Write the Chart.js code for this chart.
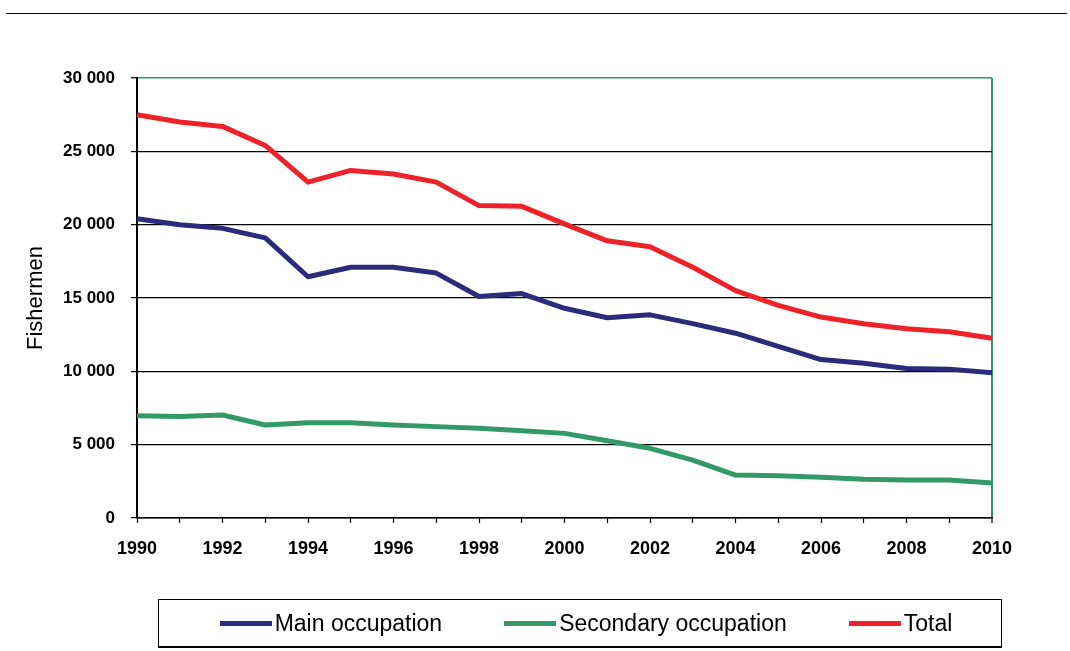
<!DOCTYPE html>
<html>
<head>
<meta charset="utf-8">
<script src="https://cdn.jsdelivr.net/npm/chart.js@4"></script>
<style>
    html, body { margin: 0; padding: 0; background: #fff; }
    #wrap { position: relative; width: 1070px; height: 651px; }
    #regua { position: absolute; left: 6px; top: 13px; width: 1061px; height: 0; border-top: 1.5px solid #000; }
    #legenda {
        position: absolute; left: 158px; top: 599px; width: 830px; height: 46px; padding-left: 12px;
        border: 1px solid #000; border-bottom-width: 2px;
        display: flex; align-items: center; justify-content: center; gap: 62px;
        font-family: "Liberation Sans", Arial, sans-serif; font-size: 23px; color: #000;
    }
    .item { display: flex; align-items: center; }
    .amostra { width: 52px; height: 5px; margin-right: 3px; }
</style>
</head>
<body>
<div id="wrap">
    <div id="regua"></div>
    <canvas id="grafico" width="1070" height="651"></canvas>
    <div id="legenda"></div>
</div>
<script>
// dados ----------------------------------------
const anos = ["1990", "1991", "1992", "1993", "1994", "1995", "1996", "1997", "1998", "1999", "2000",
    "2001", "2002", "2003", "2004", "2005", "2006", "2007", "2008", "2009", "2010"];
const principal = [20400, 20000, 19750, 19100, 16450, 17100, 17100, 16700, 15100, 15300, 14300,
    13650, 13850, 13250, 12600, 11700, 10800, 10550, 10200, 10150, 9900];
const secundaria = [6980, 6920, 7020, 6340, 6500, 6500, 6340, 6230, 6120, 5950, 5770,
    5270, 4750, 3950, 2930, 2880, 2780, 2650, 2590, 2590, 2380];
const total = [27500, 27000, 26700, 25400, 22900, 23700, 23450, 22900, 21300, 21250, 20050,
    18900, 18500, 17100, 15500, 14500, 13700, 13250, 12900, 12700, 12250];
const nomesSeries = ["Main occupation", "Secondary occupation", "Total"];
const tituloY = "Fishermen";

const CORES = { principal: "#2b2b7b", secundaria: "#339966", total: "#ee2228", verde: "#2e9966" };
const FONTE = '"Liberation Sans", Arial, sans-serif';

function formataMilhar(v) {
    return String(v).replace(/\B(?=(\d{3})+(?!\d))/g, " ");
}

function serie(label, data, cor, ordem) {
    return { label: label, data: data, borderColor: cor, backgroundColor: cor, borderWidth: 5,
        pointRadius: 0, tension: 0, borderJoinStyle: "round", borderCapStyle: "butt", order: ordem };
}

const dados = {
    labels: anos,
    datasets: [
        serie(nomesSeries[0], principal, CORES.principal, 2),
        serie(nomesSeries[1], secundaria, CORES.secundaria, 3),
        serie(nomesSeries[2], total, CORES.total, 1),
    ]
};

const opcoes = {
    responsive: false,
    animation: false,
    layout: { padding: { top: 78, right: 78, bottom: 0, left: 0 } },
    plugins: { legend: { display: false }, tooltip: { enabled: false } },
    scales: {
        x: {
            afterFit: (s) => { s.height = 133; },
            border: { color: "#000", width: 1.5 },
            grid: {
                drawOnChartArea: true,
                color: (c) => c.index === anos.length - 1 ? CORES.verde : "rgba(0,0,0,0)",
                lineWidth: (c) => c.index === anos.length - 1 ? 2 : 1,
                tickColor: "#000", tickLength: 5, tickWidth: 1.2,
            },
            ticks: {
                autoSkip: false, maxRotation: 0, padding: 15, color: "#000",
                font: { family: FONTE, size: 18, weight: "bold" },
                callback: function (val, i) { return i % 2 === 0 ? this.getLabelForValue(val) : ""; },
            },
        },
        y: {
            min: 0, max: 30000,
            afterFit: (s) => { s.width = 137; },
            border: { color: "#000", width: 2 },
            grid: {
                color: (c) => c.tick && c.tick.value === 30000 ? CORES.verde : "#000",
                lineWidth: (c) => c.tick && c.tick.value === 30000 ? 1.5 : 1.2,
                tickColor: "#000", tickLength: 6, tickWidth: 1.2,
            },
            ticks: {
                stepSize: 5000, padding: 16, color: "#000",
                font: { family: FONTE, size: 17, weight: "bold" },
                callback: (v) => formataMilhar(v),
            },
            title: {
                display: true, text: tituloY, color: "#000",
                font: { family: FONTE, size: 22 },
                padding: { top: 23, bottom: 0 },
            },
        },
    },
};

function montaLegenda(chart) {
    const box = document.getElementById("legenda");
    chart.data.datasets.forEach((ds) => {
        const item = document.createElement("div");
        item.className = "item";
        const amostra = document.createElement("span");
        amostra.className = "amostra";
        amostra.style.background = ds.borderColor;
        const txt = document.createElement("span");
        txt.textContent = ds.label;
        item.appendChild(amostra);
        item.appendChild(txt);
        box.appendChild(item);
    });
}

document.addEventListener("DOMContentLoaded", () => {
    const ctx = document.getElementById("grafico").getContext("2d");
    const meuGrafico = new Chart(ctx, { type: "line", data: dados, options: opcoes });
    montaLegenda(meuGrafico);
});
</script>
</body>
</html>
